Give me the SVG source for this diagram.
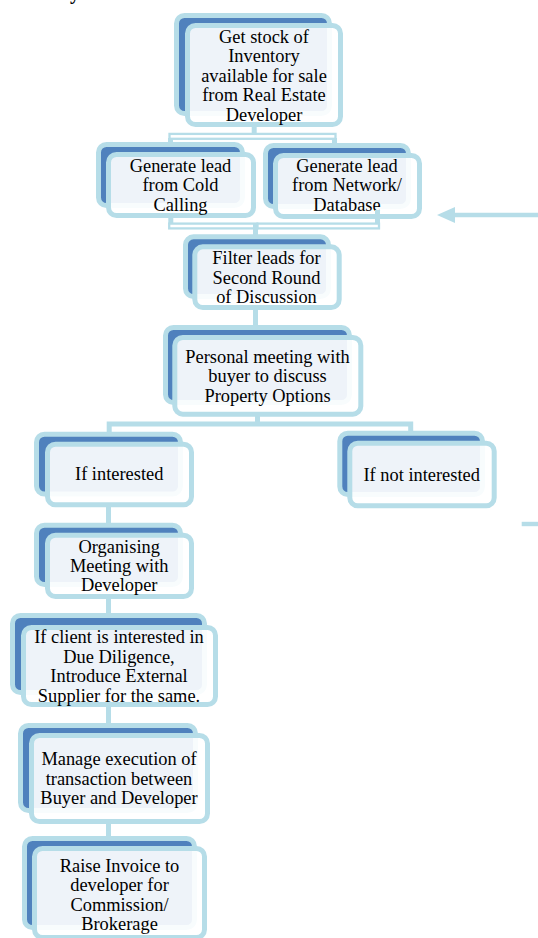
<svg xmlns="http://www.w3.org/2000/svg" width="538" height="938" viewBox="0 0 538 938">
<style>
.back{fill:#4F81BD;stroke:#B6DDE8;stroke-width:5}
.front{fill:#FFFFFF;fill-opacity:0.9;stroke:#B6DDE8;stroke-width:5}
.lbl{font-family:"Liberation Serif","Times New Roman",serif;font-size:18.4px;fill:#000;text-anchor:middle}
.ln{stroke:#B6DDE8;stroke-width:5;fill:none}
.band{fill:#FFFFFF;stroke:#B6DDE8;stroke-width:2.3}
.arr{fill:#B6DDE8}
</style>
<rect width="538" height="938" fill="#FFFFFF"/>
<text x="70" y="-1.5" style="font-family:'Liberation Serif',serif;font-size:20px;font-weight:bold;fill:#000">y</text>

<g id="n-stock">
<rect class="back" x="176.5" y="15.5" width="153" height="98" rx="8"/>
<rect class="front" x="187.5" y="25.5" width="153" height="99" rx="8"/>
<text class="lbl"><tspan x="264" y="42.5">Get stock of</tspan><tspan x="264" y="62">Inventory</tspan><tspan x="264" y="81.5">available for sale</tspan><tspan x="264" y="101">from Real Estate</tspan><tspan x="264" y="120.5">Developer</tspan></text>
</g>

<g id="n-cold">
<rect class="back" x="98.5" y="144.5" width="144" height="61" rx="8"/>
<rect class="front" x="108.5" y="154.5" width="145" height="61" rx="8"/>
<text class="lbl"><tspan x="180.5" y="171.5">Generate lead</tspan><tspan x="180.5" y="191">from Cold</tspan><tspan x="180.5" y="210.5">Calling</tspan></text>
</g>

<g id="n-network">
<rect class="back" x="265.5" y="145.5" width="143" height="61" rx="8"/>
<rect class="front" x="275.5" y="155.5" width="144" height="61" rx="8"/>
<text class="lbl"><tspan x="347" y="171.5">Generate lead</tspan><tspan x="347" y="191">from Network/</tspan><tspan x="347" y="211">Database</tspan></text>
</g>

<g id="n-filter">
<rect class="back" x="185.5" y="236.8" width="143" height="59.7" rx="8"/>
<rect class="front" x="194.8" y="246.8" width="144.4" height="60.7" rx="8"/>
<text class="lbl"><tspan x="266.5" y="264">Filter leads for</tspan><tspan x="266.5" y="283.5">Second Round</tspan><tspan x="266.5" y="303">of Discussion</tspan></text>
</g>

<g id="n-meeting">
<rect class="back" x="165.5" y="327.5" width="184" height="75" rx="8"/>
<rect class="front" x="174.8" y="337.5" width="186" height="76.7" rx="8"/>
<text class="lbl"><tspan x="267.5" y="362.5">Personal meeting with</tspan><tspan x="267.5" y="382">buyer to discuss</tspan><tspan x="267.5" y="401.5">Property Options</tspan></text>
</g>

<g id="n-interested">
<rect class="back" x="36.5" y="434.2" width="144" height="59.8" rx="8"/>
<rect class="front" x="47.5" y="444.2" width="144" height="60.6" rx="8"/>
<text class="lbl"><tspan x="119.2" y="480">If interested</tspan></text>
</g>

<g id="n-notinterested">
<rect class="back" x="339.8" y="433.2" width="142.7" height="61.3" rx="8"/>
<rect class="front" x="349.8" y="443.2" width="144.4" height="62.6" rx="8"/>
<text class="lbl"><tspan x="421.7" y="481">If not interested</tspan></text>
</g>

<g id="n-organising">
<rect class="back" x="36.5" y="525.2" width="144" height="59.3" rx="8"/>
<rect class="front" x="47.5" y="535.2" width="144" height="61.3" rx="8"/>
<text class="lbl"><tspan x="119.2" y="552.5">Organising</tspan><tspan x="119.2" y="572">Meeting with</tspan><tspan x="119.2" y="591">Developer</tspan></text>
</g>

<g id="n-diligence">
<rect class="back" x="12.5" y="615.5" width="192" height="77" rx="8"/>
<rect class="front" x="23.5" y="627.5" width="192" height="77" rx="8"/>
<text class="lbl"><tspan x="119" y="643">If client is interested in</tspan><tspan x="119" y="662.5">Due Diligence,</tspan><tspan x="119" y="682">Introduce External</tspan><tspan x="119" y="701.5">Supplier for the same.</tspan></text>
</g>

<g id="n-execution">
<rect class="back" x="20.5" y="725.5" width="175" height="85" rx="8"/>
<rect class="front" x="31.5" y="735.5" width="176" height="86" rx="8"/>
<text class="lbl"><tspan x="119" y="765">Manage execution of</tspan><tspan x="119" y="784.5">transaction between</tspan><tspan x="119" y="804">Buyer and Developer</tspan></text>
</g>

<g id="n-invoice">
<rect class="back" x="24.5" y="838.5" width="170" height="89" rx="8"/>
<rect class="front" x="34.5" y="848.5" width="170" height="89" rx="8"/>
<text class="lbl"><tspan x="119.5" y="872">Raise Invoice to</tspan><tspan x="119.5" y="891">developer for</tspan><tspan x="119.5" y="910.5">Commission/</tspan><tspan x="119.5" y="930">Brokerage</tspan></text>
</g>

<g id="connectors">
<line class="ln" x1="254.2" y1="126" x2="254.2" y2="134"/>
<line class="ln" x1="170.5" y1="138" x2="170.5" y2="143"/>
<line class="ln" x1="334.5" y1="138" x2="334.5" y2="144"/>
<rect class="band" x="169.5" y="133.9" width="166" height="4.9"/>

<line class="ln" x1="170.8" y1="217" x2="170.8" y2="224"/>
<line class="ln" x1="377.5" y1="210" x2="377.5" y2="224"/>
<rect class="band" x="169.2" y="223.6" width="88" height="4.8"/>
<rect class="band" x="257.5" y="223.6" width="121.5" height="4.8"/>
<line class="ln" x1="255.5" y1="224" x2="255.5" y2="236"/>

<line class="ln" x1="255.5" y1="309" x2="255.5" y2="327"/>

<line class="ln" x1="257.5" y1="415" x2="257.5" y2="424"/>
<path class="ln" d="M109.2 433 V424 H410.7 V433"/>

<line class="ln" x1="108.5" y1="506" x2="108.5" y2="525"/>
<line class="ln" x1="108.5" y1="598" x2="108.5" y2="615"/>
<line class="ln" x1="108.5" y1="706" x2="108.5" y2="725"/>
<line class="ln" x1="108.5" y1="823" x2="108.5" y2="838"/>

<line class="ln" x1="452" y1="215" x2="538" y2="215" style="stroke-width:4.6"/>
<polygon class="arr" points="437,215 455,207 455,223"/>
<line class="ln" x1="521.7" y1="524" x2="538" y2="524" style="stroke-width:4.4"/>
</g>
</svg>
